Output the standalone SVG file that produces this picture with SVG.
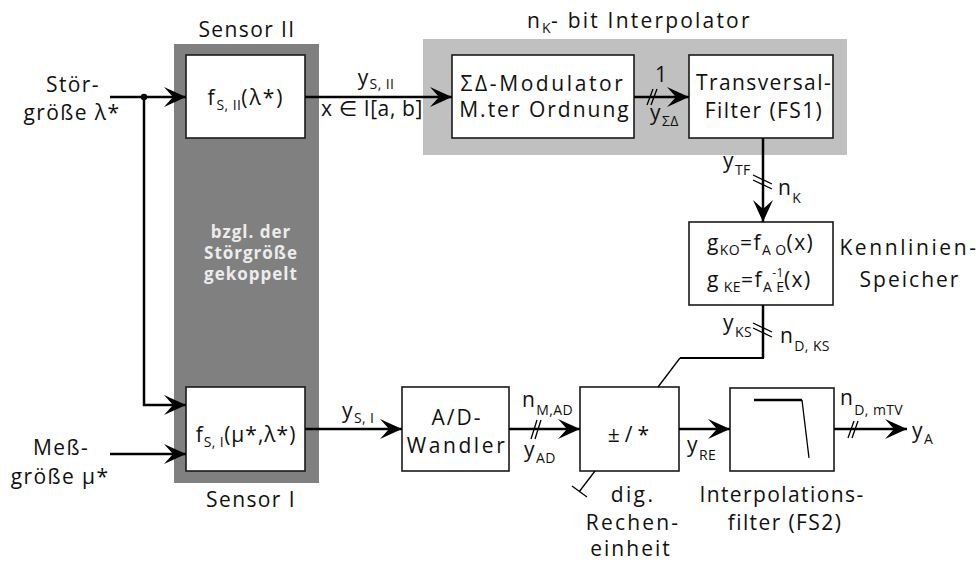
<svg xmlns="http://www.w3.org/2000/svg" width="978" height="562" viewBox="0 0 978 562">
<defs>
<style>
text { font-family: "Open Sans", "Noto Sans", "DejaVu Sans", sans-serif; font-size: 21px; fill: #111; letter-spacing: 1.4px; }
.m { text-anchor: middle; }
.sub { font-size: 14px; letter-spacing: 0.4px; }
.sup { font-size: 12px; letter-spacing: 0.4px; }
.blk { fill: #fff; stroke: #1a1a1a; stroke-width: 1.6; }
.wire { fill: none; stroke: #000; stroke-width: 2.5; }
.mid { fill: none; stroke: #000; stroke-width: 2; }
.thin { fill: none; stroke: #000; stroke-width: 1.3; }
.note { font-weight: bold; font-size: 17px; fill: #ececec; letter-spacing: 1px; }
</style>
<marker id="arr" markerUnits="userSpaceOnUse" viewBox="-23 -11 24 22" refX="0" refY="0" markerWidth="24" markerHeight="22" orient="auto">
<path d="M0,0 L-22,-10 L-13,0 L-22,10 Z" fill="#000"/>
</marker>
</defs>
<rect width="978" height="562" fill="#fff"/>

<!-- coupled sensor column -->
<g id="sensor-column">
<rect x="174" y="44" width="145" height="439" fill="#808080"/>
<text class="m" x="247" y="37">Sensor II</text>
<text class="m" x="251" y="507">Sensor I</text>
<text class="m note" x="251" y="238">bzgl. der</text>
<text class="m note" x="251" y="259">Störgröße</text>
<text class="m note" x="251" y="280">gekoppelt</text>
</g>

<!-- interpolator background -->
<g id="interpolator">
<rect x="423" y="39" width="424" height="116" fill="#c0c0c0"/>
<text x="527" y="28" style="letter-spacing:2.2px">n<tspan class="sub" dy="5">K</tspan><tspan dy="-5">- bit Interpolator</tspan></text>
</g>

<g id="input-stoer">
<text class="m" x="73" y="92">Stör-</text>
<text class="m" x="72" y="120">größe λ*</text>
</g>
<g id="input-mess">
<text class="m" x="61" y="455">Meß-</text>
<text class="m" x="60" y="484">größe μ*</text>
</g>

<g id="sensor2">
<rect class="blk" x="186" y="55" width="119" height="83"/>
<text class="m" x="246" y="105" style="letter-spacing:2px">f<tspan class="sub" dy="5">S, II</tspan><tspan dy="-5">(λ*)</tspan></text>
</g>

<g id="sensor1">
<rect class="blk" x="186" y="387" width="119" height="84"/>
<text class="m" x="246" y="442" style="letter-spacing:1px">f<tspan class="sub" dy="5">S, I</tspan><tspan dy="-5">(μ*,λ*)</tspan></text>
</g>

<g id="sigma-delta">
<rect class="blk" x="452" y="55" width="182" height="83"/>
<text class="m" x="543" y="91" style="letter-spacing:2.6px">ΣΔ-Modulator</text>
<text class="m" x="545" y="117" style="letter-spacing:2px">M.ter Ordnung</text>
</g>

<g id="transversal">
<rect class="blk" x="689" y="55" width="144" height="83"/>
<text class="m" x="764" y="90">Transversal-</text>
<text class="m" x="764" y="118">Filter (FS1)</text>
</g>

<g id="kennlinien">
<rect class="blk" x="689" y="222" width="144" height="83"/>
<text x="707" y="250">g<tspan class="sub" dy="5">KO</tspan><tspan dy="-5">=f</tspan><tspan class="sub" dy="5">A O</tspan><tspan dy="-5">(x)</tspan></text>
<text x="707" y="287">g<tspan class="sub" dy="5"> KE</tspan><tspan dy="-5">=f</tspan><tspan class="sub" dy="5">A E</tspan><tspan class="sup" dx="-12" dy="-15">-1</tspan><tspan dy="10">(x)</tspan></text>
<text class="m" x="909" y="255" style="letter-spacing:2.6px">Kennlinien-</text>
<text class="m" x="910" y="287" style="letter-spacing:2px">Speicher</text>
</g>

<g id="ad-wandler">
<rect class="blk" x="402" y="387" width="107" height="84"/>
<text class="m" x="457" y="425" style="letter-spacing:2px">A/D-</text>
<text class="m" x="457" y="453" style="letter-spacing:2.6px">Wandler</text>
</g>

<g id="recheneinheit">
<rect class="blk" x="580" y="387" width="99" height="84"/>
<text class="m" x="631" y="442" style="letter-spacing:5px">±/*</text>
<text class="m" x="633" y="502" style="letter-spacing:2.4px">dig.</text>
<text class="m" x="633" y="530" style="letter-spacing:2.2px">Rechen-</text>
<text class="m" x="631" y="556" style="letter-spacing:2px">einheit</text>
</g>

<g id="interpolationsfilter">
<rect class="blk" x="730" y="388" width="104" height="83"/>
<path class="wire" d="M754,400 H802"/>
<path class="thin" d="M802,400 L809,458"/>
<text class="m" x="782" y="502">Interpolations-</text>
<text class="m" x="785" y="530">filter (FS2)</text>
</g>

<g id="connectors">
<path class="wire" d="M110,97 H186" marker-end="url(#arr)"/>
<circle cx="144" cy="97" r="3.2" fill="#000"/>
<path class="wire" d="M144,97 V405 H186" marker-end="url(#arr)"/>
<path class="wire" d="M110,454 H186" marker-end="url(#arr)"/>

<path class="wire" d="M305,97 H452" marker-end="url(#arr)"/>
<text class="m" x="376" y="85">y<tspan class="sub" dy="4">S, II</tspan></text>
<text class="m" x="372" y="116" style="letter-spacing:0.6px">x ∈ I[a, b]</text>

<path class="wire" d="M634,97 H689" marker-end="url(#arr)"/>
<path class="thin" d="M647,105 L653,89 M651,105 L657,89"/>
<text x="655" y="82">1</text>
<text x="650" y="120">y<tspan class="sub" dy="6">ΣΔ</tspan></text>

<path class="wire" d="M763,138 V222" marker-end="url(#arr)"/>
<path class="thin" d="M753,175 L772,184 M753,180 L772,189"/>
<text x="723" y="168">y<tspan class="sub" dy="7">TF</tspan></text>
<text x="778" y="195">n<tspan class="sub" dy="8">K</tspan></text>

<path class="wire" d="M763,305 V358"/>
<path class="mid" d="M764,358 H680"/>
<path class="thin" d="M680,358 L658,387"/>
<path class="thin" d="M753,323 L772,332 M753,328 L772,337"/>
<text x="723" y="330">y<tspan class="sub" dy="7">KS</tspan></text>
<text x="780" y="343">n<tspan class="sub" dy="8">D, KS</tspan></text>

<path class="wire" d="M305,429 H402" marker-end="url(#arr)"/>
<text x="342" y="418">y<tspan class="sub" dy="5">S, I</tspan></text>

<path class="wire" d="M509,429 H580" marker-end="url(#arr)"/>
<path class="thin" d="M531,439 L537,420 M535,439 L541,420"/>
<text x="522" y="407">n<tspan class="sub" dy="8">M,AD</tspan></text>
<text x="524" y="457">y<tspan class="sub" dy="6">AD</tspan></text>

<path class="wire" d="M679,429 H730" marker-end="url(#arr)"/>
<text x="687" y="452">y<tspan class="sub" dy="8">RE</tspan></text>

<path class="wire" d="M834,429 H907" marker-end="url(#arr)"/>
<path class="thin" d="M848,438 L854,421 M852,438 L858,421"/>
<text x="840" y="405">n<tspan class="sub" dy="10">D, mTV</tspan></text>
<text x="912" y="438">y<tspan class="sub" dy="6">A</tspan></text>

<path class="thin" d="M595,471 L579,492 M572,486 L587,497"/>
</g>
</svg>
